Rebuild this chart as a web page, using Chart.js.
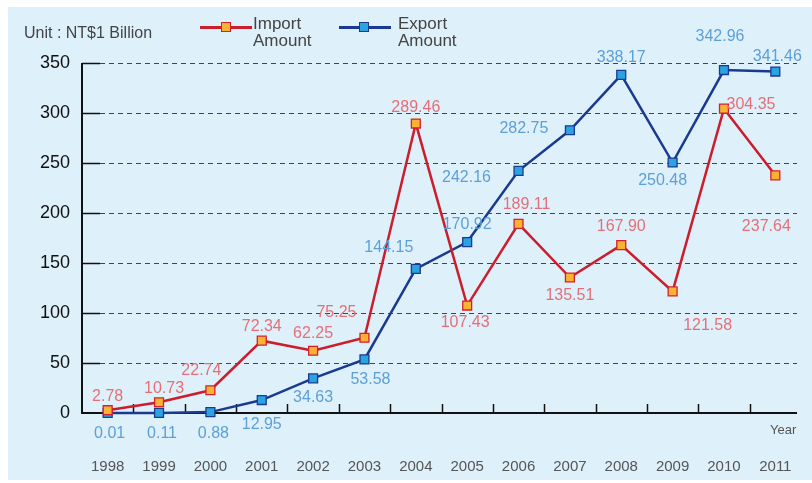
<!DOCTYPE html>
<html><head><meta charset="utf-8">
<script src="https://cdn.jsdelivr.net/npm/chart.js@4.4.0/dist/chart.umd.min.js"></script>
<style>
html,body{margin:0;padding:0;background:#fff;}
#wrap{position:relative;width:812px;height:483px;overflow:hidden;}
canvas{position:absolute;left:0;top:0;}
.t{position:absolute;font-family:"Liberation Sans",Arial,sans-serif;color:#444;white-space:nowrap;}
.ln{position:absolute;height:2.5px;}
.mk{position:absolute;width:8px;height:8px;border:1.5px solid;}
</style></head><body>
<div id="wrap"><canvas id="c" width="812" height="483"></canvas>
<div class="t" style="left:24px;top:24px;font-size:16px;">Unit : NT$1 Billion</div>
<div class="ln" style="left:200px;top:26px;width:52px;background:#cc1d2c;"></div>
<div class="mk" style="left:221px;top:22px;background:#f9b233;border-color:#d4202e;"></div>
<div class="t" style="left:253px;top:15px;font-size:17px;line-height:17px;">Import<br>Amount</div>
<div class="ln" style="left:339px;top:26px;width:52px;background:#1a3a92;"></div>
<div class="mk" style="left:359px;top:22px;background:#2aa3e0;border-color:#1a3a92;"></div>
<div class="t" style="left:398px;top:15px;font-size:17px;line-height:17px;">Export<br>Amount</div>
<div class="t" style="left:770px;top:422px;font-size:13px;color:#555;font-family:'Liberation Sans Narrow','Liberation Sans',Arial,sans-serif;">Year</div>
</div>
<script>
const years = ["1998","1999","2000","2001","2002","2003","2004","2005","2006","2007","2008","2009","2010","2011"];
const importAmount = [2.78, 10.73, 22.74, 72.34, 62.25, 75.25, 289.46, 107.43, 189.11, 135.51, 167.90, 121.58, 304.35, 237.64];
const exportAmount = [0.01, 0.11, 0.88, 12.95, 34.63, 53.58, 144.15, 170.92, 242.16, 282.75, 338.17, 250.48, 342.96, 341.46];
const yTicks = [0, 50, 100, 150, 200, 250, 300, 350];

// label placement (style only): offsets of each value label from its point
const importLabelOffsets = [[0,-14],[5,-14],[-9,-20],[0,-14],[0,-17],[-28,-25],[0,-16],[-2,17],[8,-19],[0,18],[0,-19],[35,34],[27,-4],[-9,51]];
const exportLabelOffsets = [[2,21],[3,21],[3,21],[0,25],[0,19],[6,20],[-27,-21],[0,-17],[-52,7],[-46,-2],[0,-17],[-10,18],[-4,-33],[2,-15]];

const bgPlugin = {
  id: 'bg',
  beforeDraw(chart) {
    const ctx = chart.ctx;
    ctx.save();
    ctx.fillStyle = '#def0fa';
    ctx.fillRect(8, 7, 804, 473);
    ctx.restore();
  }
};

const axesPlugin = {
  id: 'axesDraw',
  beforeDatasetsDraw(chart) {
    const ctx = chart.ctx, x = chart.scales.x, y = chart.scales.y, a = chart.chartArea;
    ctx.save();
    // dashed grid
    ctx.strokeStyle = '#444';
    ctx.lineWidth = 1;
    ctx.setLineDash([5, 4]);
    yTicks.forEach(v => {
      if (v === 0) return;
      const py = Math.round(y.getPixelForValue(v)) + 0.5;
      ctx.beginPath(); ctx.moveTo(a.left + 18, py); ctx.lineTo(a.right - 4, py); ctx.stroke();
    });
    ctx.setLineDash([]);
    ctx.strokeStyle = '#111';
    ctx.lineWidth = 1.5;
    yTicks.forEach(v => {
      if (v === 0) return;
      const py = Math.round(y.getPixelForValue(v)) + 0.5;
      ctx.beginPath(); ctx.moveTo(a.left, py); ctx.lineTo(a.left + 18, py); ctx.stroke();
    });
    // x tick marks at category boundaries
    const bottom = y.getPixelForValue(0);
    for (let i = 1; i < years.length; i++) {
      const px = Math.round((x.getPixelForValue(i - 1) + x.getPixelForValue(i)) / 2) + 0.5;
      ctx.beginPath(); ctx.moveTo(px, bottom - 9); ctx.lineTo(px, bottom); ctx.stroke();
    }
    // axes
    ctx.lineWidth = 2;
    ctx.strokeStyle = '#111';
    ctx.beginPath();
    ctx.moveTo(a.left, a.top);
    ctx.lineTo(a.left, bottom);
    ctx.lineTo(a.right - 4, bottom);
    ctx.stroke();
    // category labels
    ctx.fillStyle = '#555';
    ctx.font = '15px "Liberation Sans Narrow", "Liberation Sans", Arial, sans-serif';
    ctx.textAlign = 'center';
    ctx.textBaseline = 'middle';
    years.forEach((lab, i) => {
      ctx.fillText(lab, x.getPixelForValue(i), bottom + 54);
    });
    ctx.restore();
  }
};

const labelPlugin = {
  id: 'valLabels',
  afterDatasetsDraw(chart) {
    const ctx = chart.ctx;
    ctx.save();
    ctx.font = '16px "Liberation Sans", Arial, sans-serif';
    ctx.textAlign = 'center';
    ctx.textBaseline = 'middle';
    const sets = [
      {idx: 0, vals: importAmount, off: importLabelOffsets, color: '#e56f78'},
      {idx: 1, vals: exportAmount, off: exportLabelOffsets, color: '#5d9fd8'}
    ];
    sets.forEach(s => {
      const meta = chart.getDatasetMeta(s.idx);
      ctx.fillStyle = s.color;
      meta.data.forEach((pt, i) => {
        ctx.fillText(s.vals[i].toFixed(2), pt.x + s.off[i][0], pt.y + s.off[i][1]);
      });
    });
    ctx.restore();
  }
};

new Chart(document.getElementById('c'), {
  type: 'line',
  data: {
    labels: years,
    datasets: [
      {
        label: 'Import Amount',
        data: importAmount,
        borderColor: '#cc1d2c',
        borderWidth: 2.5,
        backgroundColor: '#f9b233',
        pointBackgroundColor: '#f9b233',
        pointBorderColor: '#d4202e',
        pointBorderWidth: 1.3,
        pointStyle: 'rect',
        pointRadius: 6.3,
        pointHoverRadius: 6.3,
        tension: 0,
        clip: false
      },
      {
        label: 'Export Amount',
        data: exportAmount,
        borderColor: '#1a3a92',
        borderWidth: 2.5,
        backgroundColor: '#2aa3e0',
        pointBackgroundColor: '#2aa3e0',
        pointBorderColor: '#1a3a92',
        pointBorderWidth: 1.3,
        pointStyle: 'rect',
        pointRadius: 6.3,
        pointHoverRadius: 6.3,
        tension: 0,
        clip: false
      }
    ]
  },
  options: {
    responsive: false,
    animation: false,
    events: [],
    layout: { autoPadding: false, padding: { left: 0, top: 63, right: 11, bottom: 0 } },
    plugins: { legend: { display: false }, tooltip: { enabled: false } },
    scales: {
      x: {
        type: 'category',
        offset: true,
        grid: { display: false, drawTicks: false },
        border: { display: false },
        ticks: { display: false },
        afterFit(s) { s.height = 70; }
      },
      y: {
        min: 0,
        max: 350,
        grid: { display: false, drawTicks: false },
        border: { display: false },
        ticks: {
          stepSize: 50,
          color: '#111',
          padding: 12,
          font: { size: 18, weight: 'normal', family: '"Liberation Sans", Arial, sans-serif' }
        },
        afterFit(s) { s.width = 82; }
      }
    }
  },
  plugins: [bgPlugin, axesPlugin, labelPlugin]
});
</script>
</body></html>
